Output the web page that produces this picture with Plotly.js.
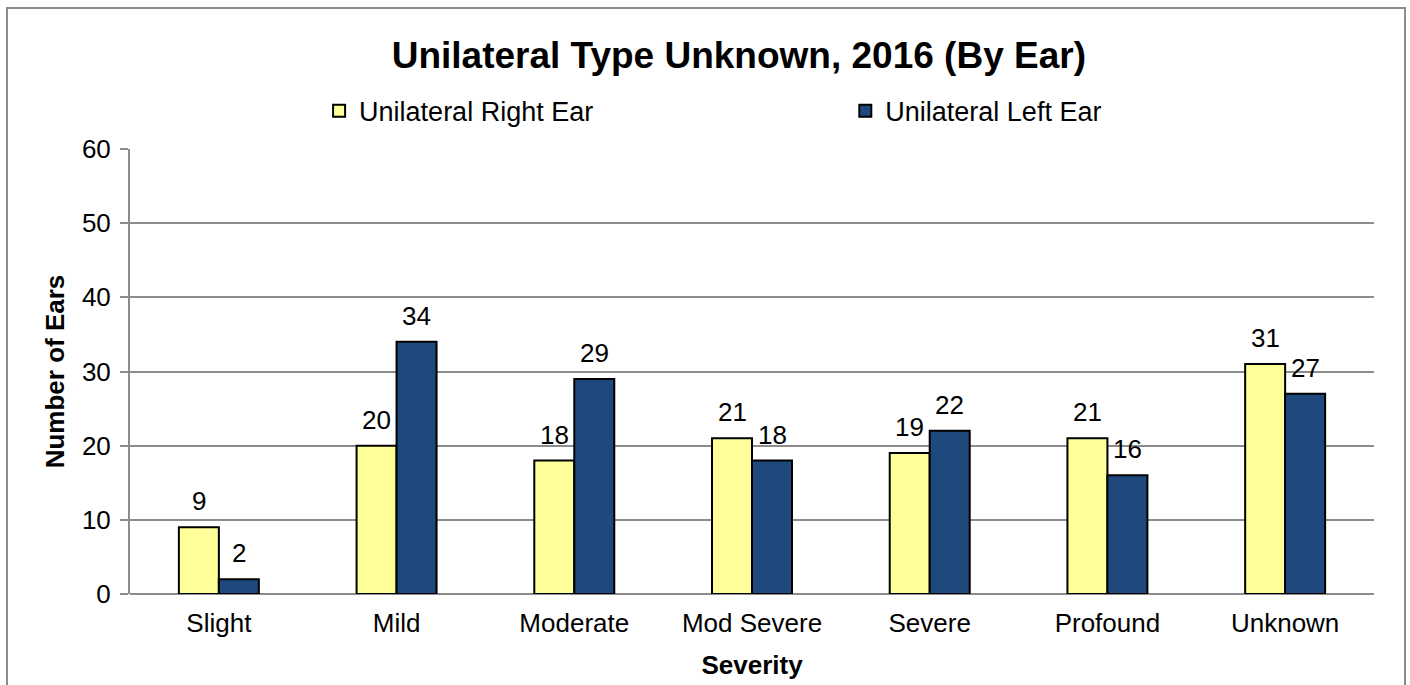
<!DOCTYPE html>
<html><head><meta charset="utf-8">
<script src="https://cdn.plot.ly/plotly-3.0.1.min.js"></script>
<style>body{margin:0;padding:0;background:#fff;overflow:hidden}#frame{position:absolute;left:6px;top:7px;width:1396px;height:700px;border:2px solid #8c8c8c;pointer-events:none}</style>
</head><body>
<div id="chart" style="width:1410px;height:685px"></div>
<div id="frame"></div>
<script>
const categories = ["Slight","Mild","Moderate","Mod Severe","Severe","Profound","Unknown"];
const rightEar = [9,20,18,21,19,21,31];
const leftEar = [2,34,29,18,22,16,27];
const yTicks = [0,10,20,30,40,50,60];

const font = "Liberation Sans, Arial, sans-serif";
const data = [
  {type:"bar", name:"Unilateral Right Ear", x:categories, y:rightEar, legend:"legend",
   marker:{color:"#FFFF99", line:{color:"#000",width:2}}},
  {type:"bar", name:"Unilateral Left Ear", x:categories, y:leftEar, legend:"legend2",
   marker:{color:"#1F497D", line:{color:"#000",width:2}}}
];
const annotations = [];
categories.forEach((c,i)=>{
  annotations.push({x:c, y:rightEar[i], xref:"x", yref:"y", text:String(rightEar[i]), showarrow:false,
    xshift:-20, yanchor:"bottom", yshift:9, font:{size:26,family:font,color:"#000"}});
  annotations.push({x:c, y:leftEar[i], xref:"x", yref:"y", text:String(leftEar[i]), showarrow:false,
    xshift:20, yanchor:"bottom", yshift:9, font:{size:26,family:font,color:"#000"}});
});
const legBase = {orientation:"h", xanchor:"left", yanchor:"middle", y:1.085, font:{size:27,family:font,color:"#000"},
  itemwidth:30, bgcolor:"rgba(0,0,0,0)"};
const layout = {
  width:1410, height:685,
  margin:{l:130,r:36,t:149,b:91},
  paper_bgcolor:"#fff", plot_bgcolor:"#fff",
  font:{family:font,color:"#000"},
  title:{text:"<b>Unilateral Type Unknown, 2016 (By Ear)</b>", font:{size:37,family:font,color:"#000"}, x:0.524, xanchor:"center", y:0.92, yanchor:"middle"},
  barmode:"group", bargap:0.55, bargroupgap:0,
  showlegend:true,
  legend:Object.assign({}, legBase, {x:0.152}),
  legend2:Object.assign({}, legBase, {x:0.575}),
  annotations:annotations,
  xaxis:{type:"category", showgrid:false, showline:false, ticks:"", tickfont:{size:26,family:font}, ticklabelstandoff:11,
    title:{text:"<b>Severity</b>", font:{size:26,family:font}, standoff:18}, zeroline:false, fixedrange:true, automargin:false},
  yaxis:{range:[0,60], tickvals:yTicks, showgrid:true, gridcolor:"#8c8c8c", gridwidth:2,
    showline:true, linecolor:"#8c8c8c", linewidth:2, ticks:"outside", ticklen:8, tickcolor:"#8c8c8c", tickwidth:2,
    tickfont:{size:26,family:font}, ticklabelstandoff:4, zeroline:true, zerolinecolor:"#8c8c8c", zerolinewidth:2,
    title:{text:"<b>Number of Ears</b>", font:{size:26,family:font}, standoff:10}, fixedrange:true, automargin:false}
};
Plotly.newPlot("chart", data, layout, {displayModeBar:false, staticPlot:true});
</script>
</body></html>
